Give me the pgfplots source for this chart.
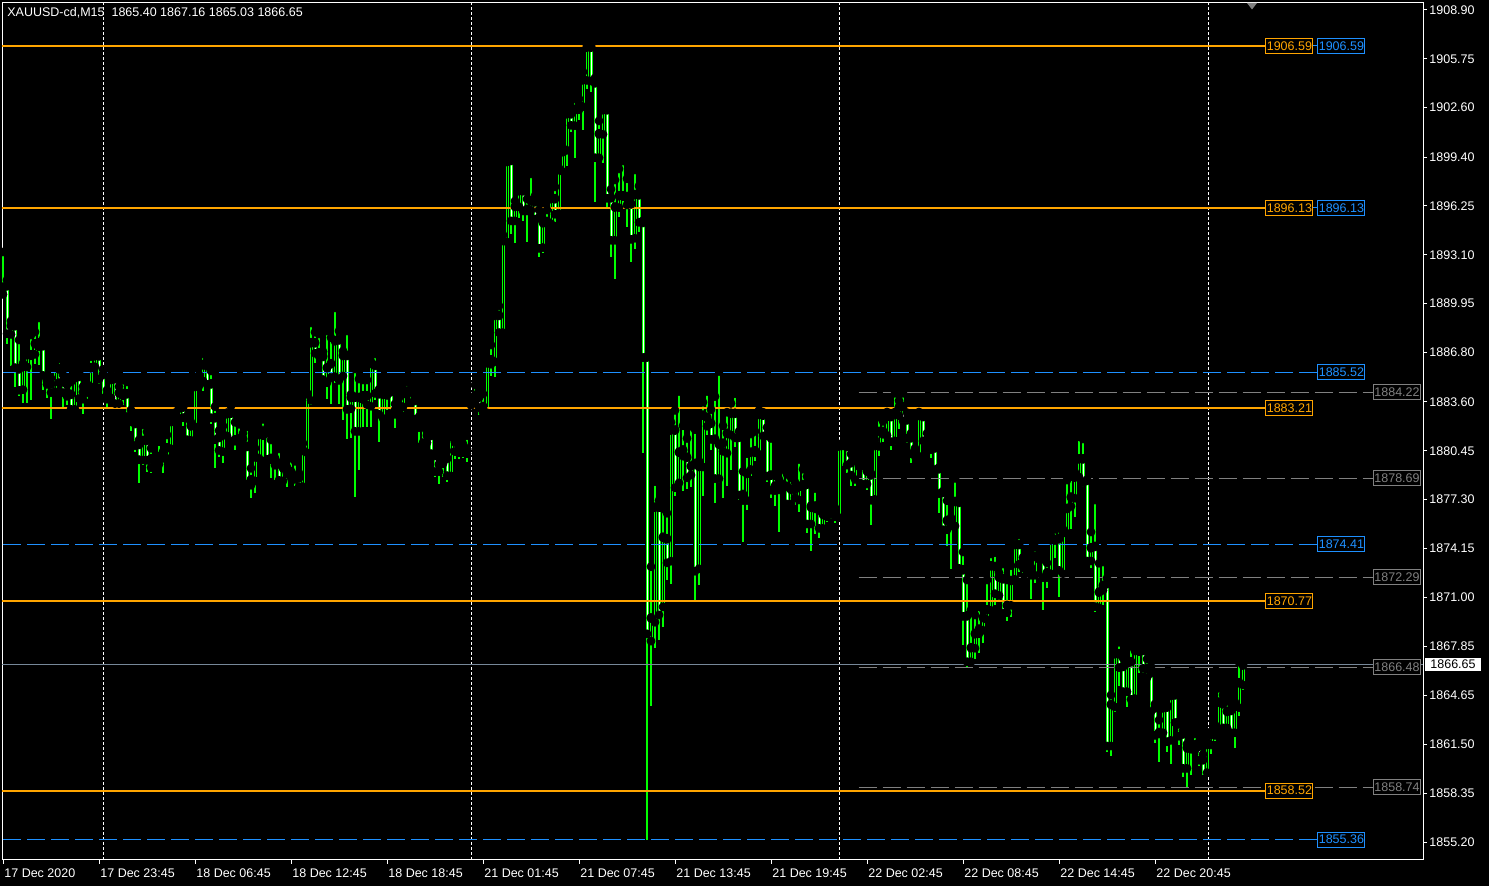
\documentclass[border=0pt]{standalone}
\usepackage{fontspec}
\setmainfont{Liberation Sans}
\usepackage{pgfplots}
\usepackage{pgfplotstable}
\pgfplotsset{compat=1.18}
\definecolor{mtgreen}{HTML}{00FF00}
\definecolor{mtorange}{HTML}{FFA500}
\definecolor{mtblue}{HTML}{1E90FF}
\definecolor{mtgray}{HTML}{808080}
\definecolor{mtbid}{HTML}{778899}

\pgfplotstableread{
i o h l c
0 1890.61 1893.28 1890.61 1891.04
1 1891.13 1891.47 1887.34 1888.07
2 1888.03 1888.83 1885.92 1888.55
3 1888.55 1888.70 1884.59 1885.88
4 1885.77 1887.60 1883.99 1884.42
5 1884.46 1886.09 1883.56 1885.92
6 1885.92 1886.68 1883.51 1886.68
7 1886.68 1887.92 1883.73 1886.65
8 1886.74 1888.12 1886.05 1887.39
9 1887.45 1889.02 1885.99 1887.24
10 1887.26 1887.67 1884.37 1885.38
11 1885.02 1885.23 1883.84 1884.80
12 1884.80 1885.13 1882.50 1884.27
13 1884.33 1885.99 1884.03 1885.88
14 1885.77 1886.37 1884.59 1884.91
15 1884.93 1885.34 1883.30 1884.27
16 1884.24 1884.70 1883.41 1884.03
17 1884.12 1884.89 1883.08 1883.19
18 1883.19 1885.45 1883.19 1885.19
19 1885.28 1885.49 1883.81 1883.88
20 1883.84 1884.59 1882.82 1884.27
21 1884.27 1884.76 1883.77 1884.63
22 1884.65 1886.53 1884.48 1885.84
23 1885.94 1886.96 1885.73 1886.61
24 1886.61 1886.89 1884.76 1885.13
25 1885.41 1885.71 1883.58 1883.90
26 1883.84 1884.37 1883.30 1884.09
27 1883.94 1885.34 1883.84 1885.08
28 1885.13 1885.28 1883.41 1883.56
29 1883.56 1884.59 1883.19 1884.22
30 1884.18 1885.02 1883.41 1884.07
31 1884.16 1884.89 1882.65 1882.72
32 1882.76 1883.08 1881.75 1882.39
33 1882.24 1882.55 1880.35 1880.85
34 1880.89 1881.15 1878.39 1879.94
35 1879.92 1882.12 1879.53 1881.15
36 1881.15 1881.68 1879.10 1879.90
37 1879.96 1880.61 1879.00 1879.43
38 1879.43 1879.96 1879.28 1879.64
39 1879.64 1881.04 1879.43 1880.09
40 1880.11 1880.39 1879.00 1880.03
41 1880.03 1881.47 1879.75 1880.67
42 1880.65 1882.55 1880.39 1882.37
43 1882.33 1882.91 1882.12 1882.70
44 1882.61 1883.34 1882.44 1883.23
45 1883.30 1883.36 1882.07 1882.65
46 1882.61 1882.70 1881.19 1881.23
47 1881.19 1882.29 1881.15 1882.09
48 1882.07 1885.06 1882.01 1884.63
49 1884.70 1885.34 1884.48 1885.17
50 1885.02 1886.70 1884.33 1886.03
51 1885.97 1886.31 1884.59 1884.80
52 1884.80 1885.60 1882.18 1882.65
53 1882.61 1883.30 1879.36 1881.23
54 1881.34 1881.75 1880.07 1880.54
55 1880.46 1882.05 1879.68 1881.51
56 1881.47 1882.91 1881.25 1882.87
57 1882.91 1883.34 1880.82 1881.10
58 1881.13 1882.29 1880.50 1881.19
59 1881.25 1882.16 1880.87 1881.10
60 1881.25 1881.58 1880.46 1880.78
61 1880.76 1882.01 1878.07 1878.35
62 1878.29 1879.32 1877.43 1878.61
63 1878.57 1880.61 1877.75 1880.09
64 1880.03 1881.90 1879.96 1881.53
65 1881.49 1882.48 1880.07 1881.71
66 1881.64 1881.90 1879.90 1879.96
67 1879.99 1881.15 1878.72 1879.94
68 1879.96 1879.96 1878.57 1879.58
69 1879.64 1880.57 1878.57 1878.61
70 1878.57 1879.68 1878.50 1879.38
71 1879.38 1879.86 1878.14 1879.04
72 1879.13 1879.99 1878.46 1878.78
73 1878.80 1879.77 1878.18 1878.67
74 1878.74 1879.00 1878.14 1878.20
75 1878.20 1880.93 1878.14 1880.50
76 1880.39 1884.16 1880.39 1884.16
77 1883.77 1888.70 1883.43 1887.45
78 1887.45 1888.10 1886.14 1886.81
79 1886.81 1887.99 1886.31 1886.63
80 1886.57 1886.85 1885.02 1885.11
81 1884.91 1888.18 1883.79 1885.84
82 1886.10 1887.75 1883.47 1885.24
83 1885.30 1889.67 1884.80 1887.58
84 1887.64 1888.18 1883.47 1885.06
85 1885.34 1886.89 1882.44 1886.63
86 1886.63 1888.18 1881.21 1883.19
87 1883.23 1884.09 1881.25 1883.92
88 1883.94 1885.73 1877.49 1881.77
89 1881.77 1885.08 1879.21 1883.92
90 1883.82 1885.02 1882.01 1884.03
91 1884.03 1885.02 1882.01 1883.49
92 1883.39 1886.20 1882.01 1886.12
93 1885.99 1886.70 1883.73 1884.22
94 1884.16 1884.42 1881.04 1882.87
95 1882.61 1884.16 1882.55 1884.12
96 1884.09 1884.63 1883.08 1884.29
97 1884.29 1884.33 1882.76 1882.91
98 1882.87 1883.47 1881.94 1883.08
99 1883.04 1883.88 1882.72 1883.39
100 1883.36 1884.44 1882.93 1884.16
101 1884.14 1884.89 1883.84 1884.31
102 1884.31 1884.48 1883.62 1883.62
103 1883.73 1883.94 1882.33 1882.55
104 1882.50 1882.65 1880.98 1882.01
105 1882.03 1882.40 1880.98 1881.04
106 1881.04 1881.69 1880.76 1881.47
107 1881.47 1881.90 1880.07 1880.33
108 1880.18 1880.29 1878.78 1879.17
109 1879.17 1880.01 1878.31 1879.60
110 1879.68 1880.18 1878.78 1879.96
111 1879.99 1880.44 1878.46 1878.91
112 1878.89 1881.47 1878.85 1881.41
113 1881.06 1881.49 1879.90 1880.46
114 1880.44 1880.72 1879.90 1880.39
115 1880.39 1880.89 1879.96 1880.44
116 1880.59 1881.43 1879.75 1880.33
117 1883.45 1883.77 1883.41 1883.66
118 1883.62 1884.70 1883.19 1884.05
119 1883.94 1884.32 1882.76 1883.30
120 1883.34 1884.12 1882.87 1882.97
121 1882.97 1886.20 1882.91 1886.16
122 1886.10 1887.28 1885.30 1886.35
123 1886.27 1889.32 1885.23 1889.22
124 1889.22 1889.80 1888.07 1888.14
125 1888.14 1894.38 1888.05 1894.05
126 1893.99 1899.15 1893.93 1899.15
127 1899.22 1899.48 1894.44 1895.35
128 1895.35 1896.57 1893.88 1896.25
129 1896.27 1897.26 1895.45 1897.26
130 1897.26 1897.26 1895.30 1895.99
131 1895.99 1896.70 1893.93 1896.06
132 1896.04 1898.32 1895.99 1896.61
133 1896.55 1896.90 1895.17 1895.45
134 1895.52 1895.99 1892.98 1893.58
135 1893.63 1895.35 1893.24 1895.20
136 1895.17 1895.99 1895.07 1895.28
137 1895.17 1896.81 1895.09 1896.75
138 1896.75 1897.48 1895.22 1895.78
139 1895.82 1898.68 1895.78 1898.62
140 1898.53 1899.97 1898.47 1899.78
141 1899.91 1902.23 1898.85 1902.23
142 1902.23 1902.57 1901.03 1901.52
143 1901.50 1903.16 1899.37 1902.49
144 1902.53 1903.16 1901.82 1902.81
145 1902.73 1904.90 1901.18 1904.42
146 1904.42 1906.59 1903.82 1906.53
147 1906.53 1906.59 1903.63 1904.38
148 1904.23 1904.51 1896.53 1899.43
149 1899.43 1901.74 1899.07 1900.94
150 1900.94 1902.70 1899.00 1902.49
151 1902.49 1902.62 1896.21 1896.81
152 1896.81 1897.33 1892.98 1894.10
153 1894.10 1897.93 1891.52 1896.21
154 1896.21 1898.64 1895.52 1896.94
155 1896.94 1899.15 1896.21 1896.92
156 1896.89 1898.01 1894.91 1896.38
157 1896.42 1896.85 1892.61 1894.16
158 1894.23 1898.57 1893.45 1897.02
159 1897.00 1897.54 1894.59 1895.26
160 1895.22 1895.30 1880.29 1886.53
161 1886.53 1886.53 1855.36 1868.70
162 1868.23 1872.97 1864.01 1869.69
163 1869.45 1878.46 1867.69 1876.84
164 1876.84 1877.24 1868.21 1869.92
165 1870.44 1876.72 1869.10 1874.90
166 1874.80 1876.42 1872.08 1873.28
167 1873.39 1882.29 1871.85 1881.82
168 1881.82 1883.06 1877.50 1878.13
169 1878.44 1884.28 1878.09 1880.39
170 1880.53 1882.07 1877.85 1880.17
171 1880.06 1881.25 1877.97 1878.77
172 1878.95 1882.03 1878.13 1879.49
173 1879.66 1881.82 1870.67 1872.74
174 1872.90 1879.78 1871.80 1879.47
175 1879.47 1883.58 1877.50 1882.78
176 1882.64 1884.28 1881.47 1882.10
177 1882.26 1883.11 1880.48 1881.25
178 1881.23 1883.95 1877.08 1878.72
179 1878.72 1885.57 1878.37 1880.90
180 1880.97 1882.07 1877.43 1880.48
181 1880.36 1882.94 1878.18 1881.61
182 1881.53 1883.51 1879.19 1882.90
183 1882.90 1884.14 1880.67 1881.35
184 1881.35 1881.70 1877.26 1877.66
185 1877.66 1879.12 1874.57 1877.31
186 1877.31 1880.27 1876.61 1879.02
187 1879.31 1881.53 1878.84 1880.39
188 1880.39 1881.70 1879.78 1880.48
189 1880.29 1883.06 1880.13 1882.83
190 1882.78 1882.94 1881.30 1881.47
191 1881.49 1881.96 1878.44 1878.88
192 1878.91 1881.25 1877.43 1877.97
193 1877.95 1878.84 1876.89 1878.20
194 1878.27 1878.60 1875.20 1877.99
195 1878.13 1879.24 1877.90 1878.30
196 1878.18 1878.93 1876.91 1877.08
197 1877.08 1878.72 1876.84 1877.99
198 1877.99 1878.42 1876.96 1877.48
199 1877.34 1879.89 1876.49 1878.18
200 1878.18 1879.26 1877.85 1878.30
201 1878.32 1878.79 1875.13 1875.79
202 1875.79 1876.91 1873.96 1876.84
203 1876.91 1878.02 1875.08 1876.77
204 1876.66 1877.01 1874.85 1875.51
205 1875.51 1876.91 1875.32 1876.37
206 1876.35 1876.68 1875.83 1876.26
207 1876.49 1877.01 1876.02 1876.87
208 1876.54 1876.77 1875.79 1876.26
209 1876.21 1880.83 1875.91 1880.79
210 1880.90 1880.99 1879.49 1880.83
211 1880.76 1880.83 1879.02 1879.59
212 1879.71 1880.24 1878.18 1878.95
213 1878.67 1880.24 1878.18 1880.01
214 1879.87 1880.24 1879.31 1879.49
215 1879.54 1879.71 1878.18 1878.37
216 1878.37 1879.31 1877.95 1879.17
217 1878.93 1878.99 1875.66 1877.32
218 1877.38 1881.15 1877.32 1880.82
219 1880.80 1882.63 1880.11 1881.73
220 1881.73 1882.35 1881.04 1881.58
221 1881.51 1882.95 1881.32 1882.69
222 1882.69 1882.82 1880.50 1881.10
223 1881.15 1884.16 1880.80 1882.95
224 1882.78 1883.68 1881.86 1883.30
225 1883.34 1884.16 1882.22 1882.44
226 1882.48 1882.91 1880.93 1881.32
227 1881.32 1881.58 1879.68 1880.33
228 1880.37 1880.61 1880.07 1880.16
229 1880.16 1882.95 1880.11 1882.76
230 1882.69 1882.76 1880.82 1881.15
231 1881.19 1881.58 1880.50 1880.80
232 1880.82 1880.97 1879.96 1880.59
233 1880.67 1881.04 1879.25 1879.30
234 1879.32 1879.38 1876.46 1877.75
235 1877.79 1877.85 1875.34 1875.42
236 1875.42 1877.23 1874.33 1875.98
237 1875.98 1876.13 1872.82 1875.66
238 1875.66 1878.67 1875.62 1877.21
239 1877.15 1877.19 1872.86 1872.93
240 1872.80 1873.92 1867.92 1869.83
241 1869.83 1872.11 1866.47 1866.90
242 1866.90 1870.17 1866.84 1867.77
243 1867.77 1869.85 1866.99 1868.67
244 1868.71 1870.39 1867.42 1868.97
245 1868.93 1870.22 1868.02 1869.72
246 1869.62 1872.11 1869.36 1870.22
247 1870.22 1873.79 1870.17 1873.06
248 1873.01 1873.88 1870.50 1871.29
249 1871.18 1872.58 1870.71 1872.33
250 1872.22 1873.14 1869.96 1870.02
251 1870.07 1872.11 1869.49 1870.50
252 1870.54 1873.04 1869.70 1872.11
253 1872.22 1874.95 1872.15 1874.43
254 1874.43 1875.02 1872.61 1873.19
255 1873.32 1873.57 1872.58 1872.97
256 1872.97 1873.29 1872.50 1872.65
257 1872.48 1872.93 1870.86 1872.76
258 1872.48 1874.22 1871.90 1873.66
259 1873.66 1873.66 1873.36 1873.51
260 1873.51 1873.62 1870.17 1872.33
261 1872.33 1873.21 1871.57 1872.61
262 1872.58 1874.95 1872.50 1874.73
263 1874.73 1875.38 1873.55 1874.76
264 1874.80 1875.45 1870.99 1872.80
265 1872.58 1875.38 1872.48 1875.19
266 1875.19 1878.56 1875.17 1876.76
267 1876.93 1878.78 1875.38 1877.49
268 1877.45 1879.04 1876.20 1878.78
269 1878.82 1881.36 1878.67 1879.96
270 1879.96 1881.21 1878.09 1878.46
271 1878.57 1878.57 1873.30 1873.40
272 1873.40 1875.21 1872.86 1874.22
273 1874.31 1877.27 1870.07 1870.46
274 1870.39 1873.19 1870.17 1871.36
275 1871.51 1873.27 1870.50 1871.79
276 1871.90 1872.22 1861.03 1861.46
277 1861.46 1864.69 1860.77 1864.11
278 1863.98 1867.44 1863.61 1867.38
279 1867.38 1868.09 1865.27 1866.52
280 1866.56 1867.06 1864.84 1864.97
281 1864.97 1866.95 1863.89 1866.78
282 1866.86 1867.83 1864.41 1864.47
283 1864.52 1867.87 1864.47 1867.59
284 1867.59 1867.98 1866.13 1867.55
285 1867.59 1867.85 1866.09 1866.47
286 1866.43 1867.01 1865.55 1865.87
287 1866.15 1866.52 1863.66 1863.68
288 1863.89 1864.11 1861.61 1862.15
289 1862.24 1863.07 1860.39 1862.30
290 1862.32 1864.11 1861.96 1863.89
291 1863.94 1864.04 1861.03 1861.74
292 1861.83 1864.75 1860.23 1864.69
293 1864.73 1864.75 1862.69 1862.97
294 1862.86 1862.97 1861.46 1862.09
295 1862.21 1862.39 1859.42 1860.02
296 1860.02 1861.53 1858.66 1861.31
297 1861.35 1861.40 1859.53 1861.25
298 1861.20 1862.17 1861.14 1861.50
299 1861.42 1861.65 1860.11 1860.54
300 1860.54 1860.86 1859.27 1859.31
301 1859.74 1861.68 1859.42 1861.53
302 1861.53 1862.32 1860.86 1862.17
303 1862.15 1862.75 1861.74 1862.60
304 1862.39 1865.12 1862.32 1864.26
305 1864.15 1864.69 1862.63 1862.63
306 1862.63 1864.43 1862.60 1863.66
307 1863.72 1864.15 1862.11 1862.32
308 1862.32 1864.21 1861.29 1863.98
309 1863.94 1866.80 1863.35 1865.51
310 1865.40 1867.16 1865.03 1866.65
}\candles

\tikzset{
  lvlbox/.style={draw=#1, text=#1, fill=black, line width=0.5pt, inner sep=0pt,
    minimum width=23.5pt, minimum height=7.5pt},
}

\begin{document}
\begin{tikzpicture}[font=\fontsize{6.25pt}{7.5pt}\selectfont]
\fill[black] (0,0) rectangle (744.5pt,443pt);
\useasboundingbox (0,0) rectangle (744.5pt,443pt);
\begin{axis}[
  at={(1pt,13pt)}, anchor=south west,
  scale only axis, width=710.5pt, height=428.5pt,
  xmin=-0.25, xmax=355, ymin=1854.04, ymax=1909.35,
  clip=false,
  axis line style={white, line width=0.5pt},
  tick align=outside,
  major tick length=2pt,
  tick style={white, line width=0.5pt},
  xtick pos=bottom, ytick pos=right,
  yticklabel pos=right,
  xtick={0,24,48,72,96,120,144,168,192,216,240,264,288},
  xticklabels={17 Dec 2020, 17 Dec 23:45, 18 Dec 06:45, 18 Dec 12:45, 18 Dec 18:45, 21 Dec 01:45, 21 Dec 07:45, 21 Dec 13:45, 21 Dec 19:45, 22 Dec 02:45, 22 Dec 08:45, 22 Dec 14:45, 22 Dec 20:45},
  ytick={1855.20,1858.35,1861.50,1864.65,1867.85,1871.00,1874.15,1877.30,1880.45,1883.60,1886.80,1889.95,1893.10,1896.25,1899.40,1902.60,1905.75,1908.90},
  yticklabels={1855.20,1858.35,1861.50,1864.65,1867.85,1871.00,1874.15,1877.30,1880.45,1883.60,1886.80,1889.95,1893.10,1896.25,1899.40,1902.60,1905.75,1908.90},
  xticklabel style={text=white, anchor=north west, inner sep=0pt, xshift=0.5pt, yshift=-2pt},
  yticklabel style={text=white, anchor=west, inner sep=0pt, xshift=1pt},
]
% day separators
\foreach \s in {25,117,209,301.25}{
  \edef\tmp{\noexpand\draw[white, line width=0.5pt, dash pattern=on 1.5pt off 1pt] (axis cs:\s,1854.04) -- (axis cs:\s,1909.35);}
  \tmp
}
% wicks
\addplot[forget plot, only marks, mark=none,
  error bars/.cd, y dir=minus, y explicit, error mark=none,
  error bar style={mtgreen, line width=0.55pt}]
  table[x=i, y=h, y error minus expr={\thisrow{h}-\thisrow{l}}] {\candles};
% bodies
\addplot[forget plot, only marks, mark=none,
  error bars/.cd, y dir=minus, y explicit, error mark=-,
  error mark options={rotate=90, mtgreen, line width=0.5pt, mark size=0.75pt},
  error bar style={mtgreen, line width=1.5pt}]
  table[x=i, y expr={max(\thisrow{o},\thisrow{c})}, y error minus expr={abs(\thisrow{o}-\thisrow{c})}] {\candles};
% bear bodies: white inside
\addplot[forget plot, only marks, mark=none,
  error bars/.cd, y dir=minus, y explicit, error mark=none,
  error bar style={white, line width=0.5pt}]
  table[x=i, y expr={\thisrow{o}-0.0645}, y error minus expr={max(\thisrow{o}-\thisrow{c}-0.129,0)}] {\candles};
% bull bodies: hollow
\addplot[forget plot, only marks, mark=none,
  error bars/.cd, y dir=minus, y explicit, error mark=none,
  error bar style={black, line width=0.5pt}]
  table[x=i, y expr={\thisrow{c}-0.0645}, y error minus expr={max(\thisrow{c}-\thisrow{o}-0.129,0)}] {\candles};

% bid line
\addplot[mtbid, line width=0.5pt] coordinates {(-0.25,1866.65) (355,1866.65)};
% gray dashed levels
\foreach \v in {1884.22,1878.69,1872.29,1866.48,1858.74}{
  \edef\tmp{\noexpand\addplot[mtgray, line width=0.5pt, dash pattern=on 9pt off 3pt] coordinates {(213.9,\v) (342.5,\v)};}
  \tmp
}
% blue dashed levels
\foreach \v in {1885.52,1874.41,1855.36}{
  \edef\tmp{\noexpand\addplot[mtblue, line width=0.6pt, dash pattern=on 9pt off 3pt] coordinates {(0,\v) (328.75,\v)};}
  \tmp
}
\addplot[mtblue, line width=0.5pt] coordinates {(327,1906.59) (329,1906.59)};
\addplot[mtblue, line width=0.5pt] coordinates {(327,1896.13) (329,1896.13)};
% orange levels
\foreach \v in {1906.59,1896.13,1883.21,1870.77,1858.52}{
  \edef\tmp{\noexpand\addplot[mtorange, line width=1pt] coordinates {(-0.25,\v) (315.75,\v)};}
  \tmp
}
% level labels
\node[lvlbox=mtorange] at (axis cs:321.6,1906.59) {1906.59};
\node[lvlbox=mtorange] at (axis cs:321.6,1896.13) {1896.13};
\node[lvlbox=mtorange] at (axis cs:321.6,1883.21) {1883.21};
\node[lvlbox=mtorange] at (axis cs:321.6,1870.77) {1870.77};
\node[lvlbox=mtorange] at (axis cs:321.6,1858.52) {1858.52};
\node[lvlbox=mtblue] at (axis cs:334.6,1906.59) {1906.59};
\node[lvlbox=mtblue] at (axis cs:334.6,1896.13) {1896.13};
\node[lvlbox=mtblue] at (axis cs:334.6,1885.52) {1885.52};
\node[lvlbox=mtblue] at (axis cs:334.6,1874.41) {1874.41};
\node[lvlbox=mtblue] at (axis cs:334.6,1855.36) {1855.36};
\node[lvlbox=mtgray] at (axis cs:348.5,1884.22) {1884.22};
\node[lvlbox=mtgray] at (axis cs:348.5,1878.69) {1878.69};
\node[lvlbox=mtgray] at (axis cs:348.5,1872.29) {1872.29};
\node[lvlbox=mtgray] at (axis cs:348.5,1866.48) {1866.48};
\node[lvlbox=mtgray] at (axis cs:348.5,1858.74) {1858.74};
% current price tag
\node[fill=white, text=black, inner sep=0pt, minimum width=28pt, minimum height=6.5pt] at (axis cs:362.5,1866.65) {1866.65};
% shift marker
\fill[mtgray] (axis cs:311,1909.35) -- (axis cs:313.5,1909.35) -- (axis cs:312.25,1908.93) -- cycle;
% info line
\node[anchor=west, text=white, inner sep=0pt] at ([xshift=2.5pt, yshift=-5pt]axis description cs:0,1) {XAUUSD-cd,M15\ \ 1865.40 1867.16 1865.03 1866.65};
\end{axis}
\end{tikzpicture}
\end{document}
